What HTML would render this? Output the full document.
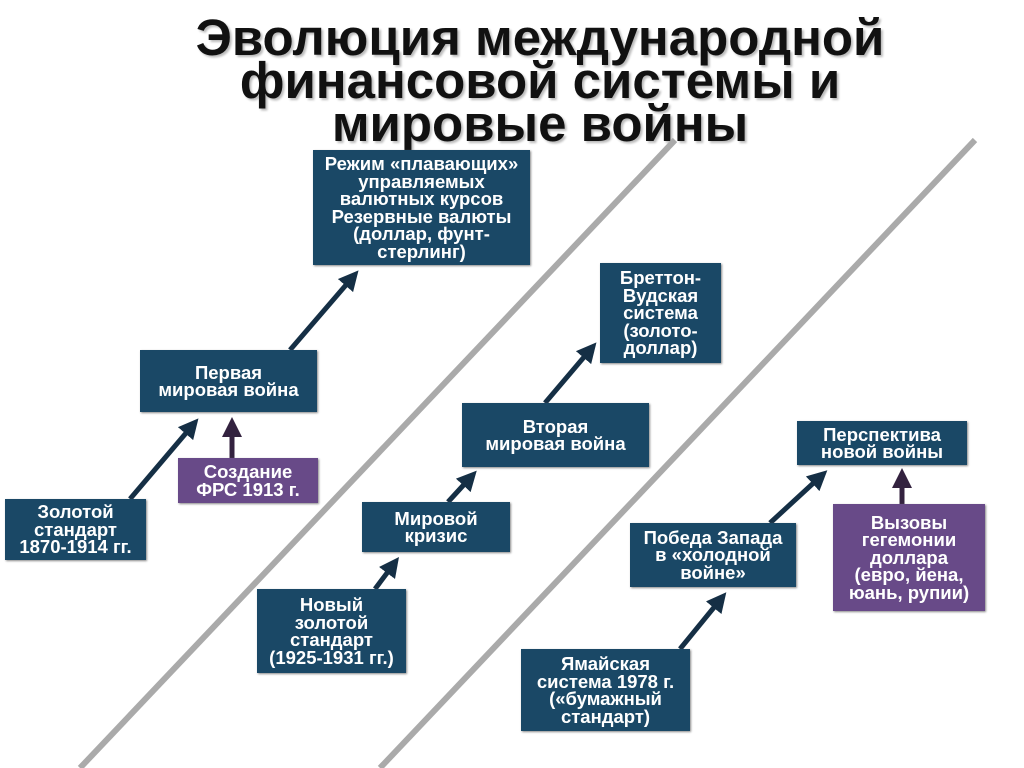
<!DOCTYPE html>
<html><head><meta charset="utf-8"><style>
body{margin:0;width:1024px;height:768px;background:#fff;position:relative;overflow:hidden;font-family:"Liberation Sans",sans-serif}
.t{position:absolute;left:0;width:1080px;text-align:center;font-weight:bold;font-size:51px;line-height:43px;top:16px;color:#111;text-shadow:2px 2px 2px #bbb}
.b{position:absolute;background:#1a4866;color:#fff;font-weight:bold;font-size:18.5px;line-height:17.5px;display:flex;align-items:center;justify-content:center;text-align:center;box-shadow:1px 1px 2px #888;white-space:nowrap}
.p{background:#684a88}
svg{position:absolute;left:0;top:0}
</style></head><body>
<div class="t">Эволюция международной<br>финансовой системы и<br>мировые войны</div>
<svg width="1024" height="768">
<defs>
<marker id="a" markerWidth="4" markerHeight="4" refX="2" refY="2" orient="auto"><path d="M0,0L4,2L0,4z" fill="#152f45"/></marker>
<marker id="pa" markerWidth="4" markerHeight="4" refX="2" refY="2" orient="auto"><path d="M0,0L4,2L0,4z" fill="#33223f"/></marker>
</defs>
<line x1="80" y1="768" x2="675" y2="140" stroke="#aaa" stroke-width="6"/>
<line x1="380" y1="768" x2="975" y2="140" stroke="#aaa" stroke-width="6"/>
<g stroke="#152f45" stroke-width="5" marker-end="url(#a)">
<line x1="130" y1="499" x2="192" y2="426"/>
<line x1="290" y1="350" x2="352" y2="278"/>
<line x1="375" y1="589" x2="393" y2="565"/>
<line x1="448" y1="502" x2="470" y2="478"/>
<line x1="545" y1="403" x2="590" y2="350"/>
<line x1="680" y1="649" x2="720" y2="600"/>
<line x1="770" y1="523" x2="820" y2="477"/>
</g>
<g stroke="#33223f" stroke-width="5" marker-end="url(#pa)">
<line x1="232" y1="458" x2="232" y2="427"/>
<line x1="902" y1="504" x2="902" y2="478"/>
</g>
</svg>
<div class="b" style="left:313px;top:150px;width:217px;height:115px">Режим «плавающих»<br>управляемых<br>валютных курсов<br>Резервные валюты<br>(доллар, фунт-<br>стерлинг)</div>
<div class="b" style="left:140px;top:350px;width:177px;height:62px">Первая<br>мировая война</div>
<div class="b p" style="left:178px;top:458px;width:140px;height:45px">Создание<br>ФРС 1913 г.</div>
<div class="b" style="left:5px;top:499px;width:141px;height:61px">Золотой<br>стандарт<br>1870-1914 гг.</div>
<div class="b" style="left:600px;top:263px;width:121px;height:100px">Бреттон-<br>Вудская<br>система<br>(золото-<br>доллар)</div>
<div class="b" style="left:462px;top:403px;width:187px;height:64px">Вторая<br>мировая война</div>
<div class="b" style="left:362px;top:502px;width:148px;height:50px">Мировой<br>кризис</div>
<div class="b" style="left:257px;top:589px;width:149px;height:84px">Новый<br>золотой<br>стандарт<br>(1925-1931 гг.)</div>
<div class="b" style="left:797px;top:421px;width:170px;height:44px">Перспектива<br>новой войны</div>
<div class="b" style="left:630px;top:523px;width:166px;height:64px">Победа Запада<br>в «холодной<br>войне»</div>
<div class="b p" style="left:833px;top:504px;width:152px;height:107px">Вызовы<br>гегемонии<br>доллара<br>(евро, йена,<br>юань, рупии)</div>
<div class="b" style="left:521px;top:649px;width:169px;height:82px">Ямайская<br>система 1978 г.<br>(«бумажный<br>стандарт)</div>
</body></html>
